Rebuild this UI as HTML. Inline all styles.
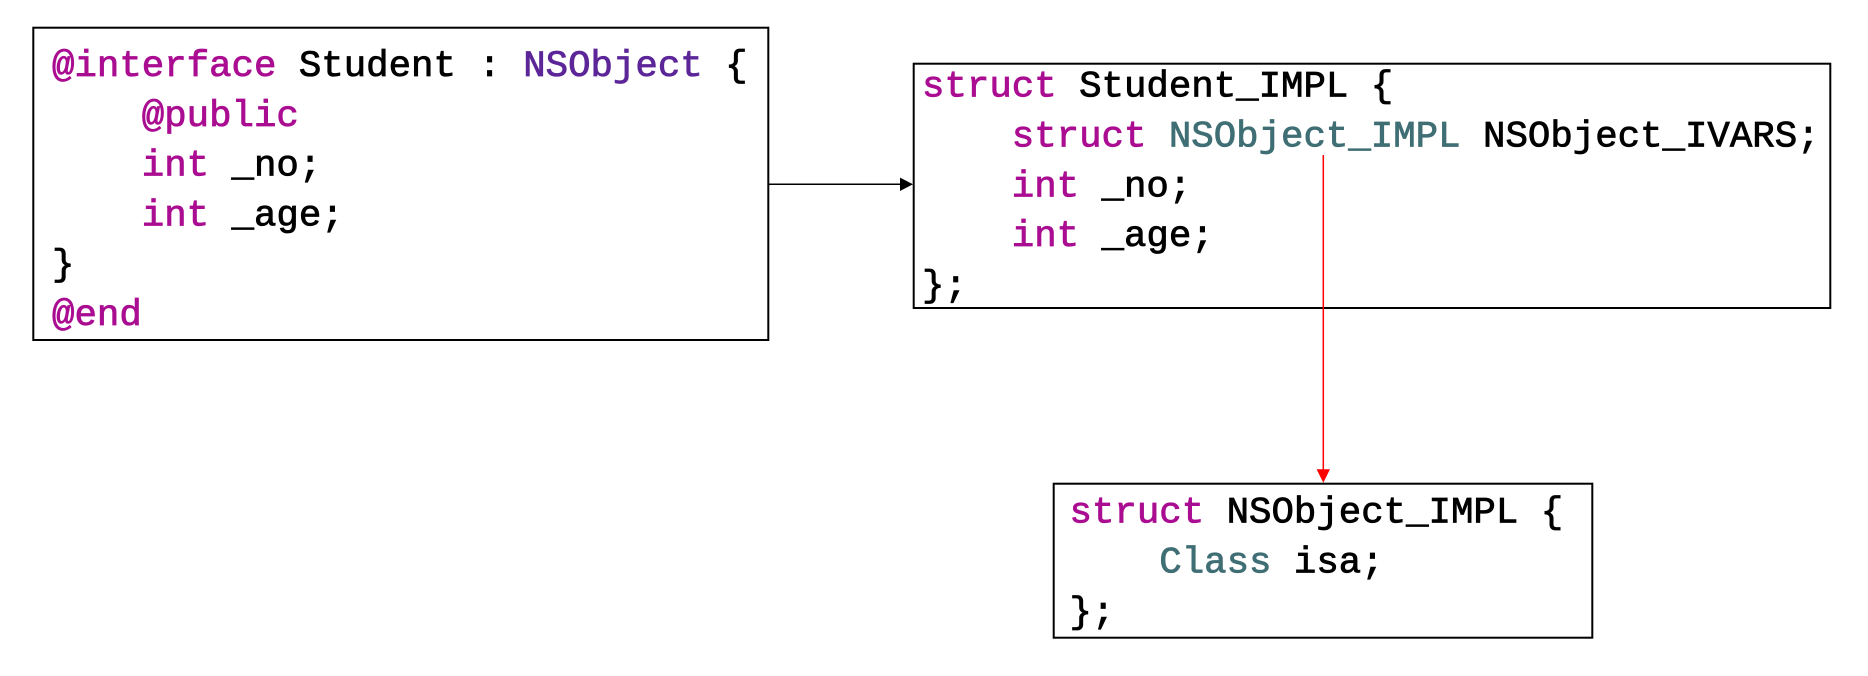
<!DOCTYPE html>
<html>
<head>
<meta charset="utf-8">
<style>
  html, body { margin: 0; padding: 0; background: #fff; }
  body { width: 1868px; height: 676px; overflow: hidden; }
  svg { display: block; }
  text { font-family: "Liberation Mono", "DejaVu Sans Mono", monospace; font-size: 37.4px; white-space: pre; }
  .k { fill: #AA0D91; stroke: #AA0D91; stroke-width: 0.8; }
  .p { fill: #5C2699; stroke: #5C2699; stroke-width: 0.8; }
  .t { fill: #3F6E74; stroke: #3F6E74; stroke-width: 0.8; }
  .b { fill: #000; stroke: #000; stroke-width: 0.8; }
</style>
</head>
<body>
<svg width="1868" height="676" viewBox="0 0 1868 676" xmlns="http://www.w3.org/2000/svg">
  <rect x="0" y="0" width="1868" height="676" fill="#fff"/>

  <!-- Box 1 -->
  <rect x="33.3" y="27.7" width="735" height="312.3" fill="none" stroke="#000" stroke-width="2"/>
  <text x="52" y="76" xml:space="preserve"><tspan class="k">@interface</tspan><tspan class="b"> Student : </tspan><tspan class="p">NSObject</tspan><tspan class="b"> {</tspan></text>
  <text x="52" y="125.8" xml:space="preserve"><tspan class="b">    </tspan><tspan class="k">@public</tspan></text>
  <text x="52" y="175.6" xml:space="preserve"><tspan class="b">    </tspan><tspan class="k">int</tspan><tspan class="b"> _no;</tspan></text>
  <text x="52" y="225.4" xml:space="preserve"><tspan class="b">    </tspan><tspan class="k">int</tspan><tspan class="b"> _age;</tspan></text>
  <text x="52" y="275.2" xml:space="preserve"><tspan class="b">}</tspan></text>
  <text x="52" y="325" xml:space="preserve"><tspan class="k">@end</tspan></text>

  <!-- Black arrow -->
  <line x1="769" y1="184.3" x2="901" y2="184.3" stroke="#000" stroke-width="1.5"/>
  <polygon points="900,177.6 913,184.3 900,191" fill="#000"/>

  <!-- Box 2 -->
  <rect x="913.7" y="63.7" width="916.6" height="244.3" fill="none" stroke="#000" stroke-width="2"/>
  <text x="922" y="96.7" xml:space="preserve"><tspan class="k">struct</tspan><tspan class="b"> Student_IMPL {</tspan></text>
  <text x="922" y="146.5" xml:space="preserve"><tspan class="b">    </tspan><tspan class="k">struct</tspan><tspan class="b"> </tspan><tspan class="t">NSObject_IMPL</tspan><tspan class="b"> NSObject_IVARS;</tspan></text>
  <text x="922" y="196.3" xml:space="preserve"><tspan class="b">    </tspan><tspan class="k">int</tspan><tspan class="b"> _no;</tspan></text>
  <text x="922" y="246.1" xml:space="preserve"><tspan class="b">    </tspan><tspan class="k">int</tspan><tspan class="b"> _age;</tspan></text>
  <text x="922" y="296" xml:space="preserve"><tspan class="b">};</tspan></text>

  <!-- Red arrow -->
  <line x1="1323.3" y1="155" x2="1323.3" y2="470" stroke="#FF0000" stroke-width="1.5"/>
  <polygon points="1316.6,469.3 1330,469.3 1323.3,482.7" fill="#FF0000"/>

  <!-- Box 3 -->
  <rect x="1053.7" y="483.7" width="538.6" height="154" fill="none" stroke="#000" stroke-width="2"/>
  <text x="1069.5" y="522.7" xml:space="preserve"><tspan class="k">struct</tspan><tspan class="b"> NSObject_IMPL {</tspan></text>
  <text x="1069.5" y="572.5" xml:space="preserve"><tspan class="b">    </tspan><tspan class="t">Class</tspan><tspan class="b"> isa;</tspan></text>
  <text x="1069.5" y="622.3" xml:space="preserve"><tspan class="b">};</tspan></text>
</svg>
</body>
</html>
